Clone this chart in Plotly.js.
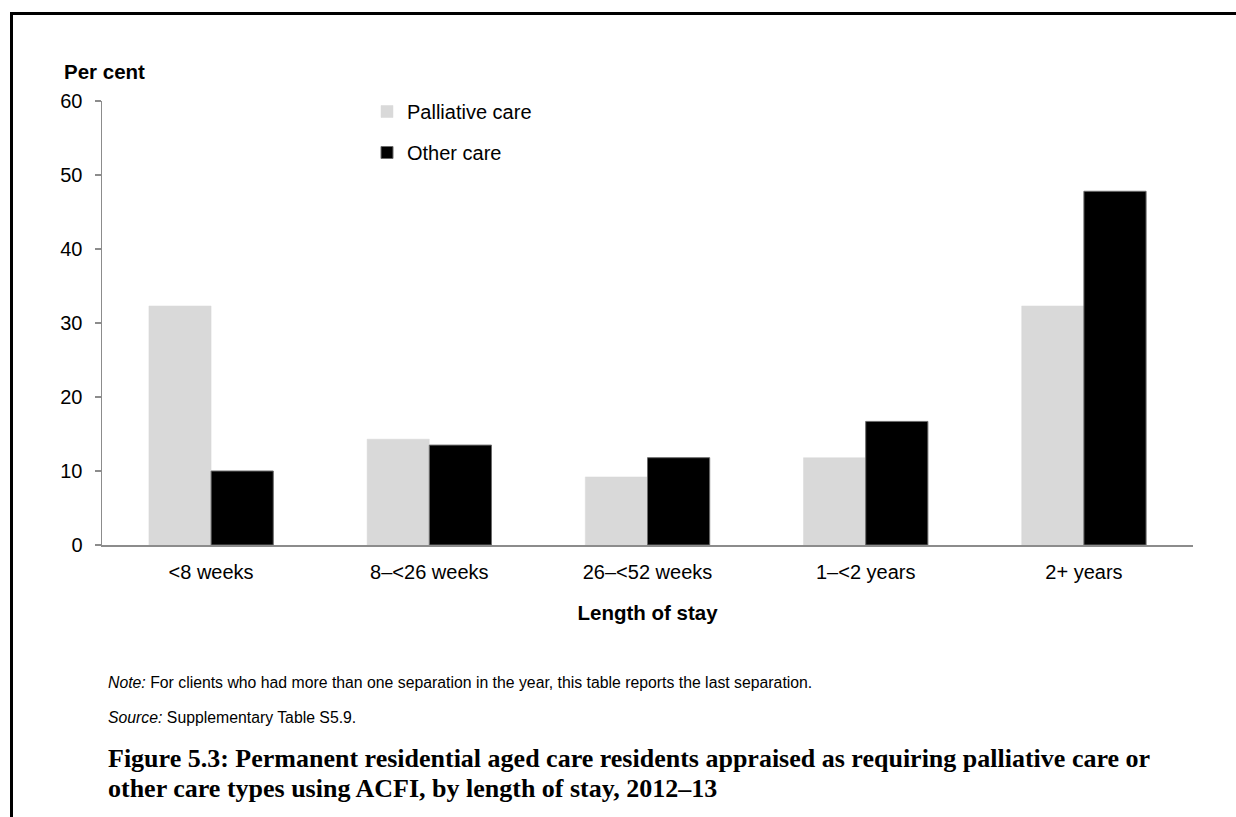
<!DOCTYPE html>
<html>
<head>
<meta charset="utf-8">
<script src="https://cdn.plot.ly/plotly-3.0.1.min.js"></script>
<style>
  html, body { margin: 0; padding: 0; background: #ffffff; }
  #wrap { position: relative; width: 1236px; height: 817px; overflow: hidden; }
  #chart { position: absolute; left: 0; top: 0; width: 1236px; height: 817px; }
  #frame {
    position: absolute; left: 10px; top: 12px; width: 1300px; height: 900px;
    border-top: 3px solid #000; border-left: 3px solid #000; pointer-events: none;
  }
</style>
</head>
<body>
<div id="wrap">
  <div id="chart"></div>
  <div id="frame"></div>
</div>
<script>
// Length-of-stay categories and the share of residents (per cent) in each
const categories = ['<8 weeks', '8\u2013<26 weeks', '26\u2013<52 weeks', '1\u2013<2 years', '2+ years'];
const palliativeCare = [32.3, 14.3, 9.2, 11.8, 32.3];
const otherCare = [10.0, 13.5, 11.8, 16.7, 47.8];
const yTicks = [0, 10, 20, 30, 40, 50, 60];

const W = 1236, H = 817;
const M = { l: 102, r: 43, t: 101, b: 272 };
const plotW = W - M.l - M.r, plotH = H - M.t - M.b;
const px = x => (x - M.l) / plotW;
const py = y => (H - M.b - y) / plotH;

const sans = 'Liberation Sans, Arial, sans-serif';
const serif = 'Liberation Serif, Times New Roman, serif';

const traces = [
  {
    type: 'bar', name: 'Palliative care', x: categories, y: palliativeCare,
    marker: { color: '#d9d9d9', line: { color: '#d9d9d9', width: 0.5 } },
    legendgroup: 'a', hoverinfo: 'skip'
  },
  {
    type: 'bar', name: 'Other care', x: categories, y: otherCare,
    marker: { color: '#000000', line: { color: '#6b6b6b', width: 1 } },
    legendgroup: 'b', hoverinfo: 'skip'
  }
];

const layout = {
  width: W, height: H,
  margin: M,
  paper_bgcolor: '#ffffff', plot_bgcolor: '#ffffff',
  barmode: 'group', bargap: 0.43, bargroupgap: 0,
  font: { family: sans, size: 20, color: '#000000' },
  showlegend: true,
  legend: {
    x: px(367), y: py(92), xanchor: 'left', yanchor: 'top',
    bgcolor: 'rgba(0,0,0,0)', font: { family: sans, size: 20, color: '#000' },
    traceorder: 'grouped', tracegroupgap: 12, itemwidth: 30
  },
  xaxis: {
    type: 'category', showline: true, linecolor: '#8c8c8c', linewidth: 1.5,
    ticks: '', showgrid: false, zeroline: false, ticklabelstandoff: 8,
    tickfont: { family: sans, size: 20, color: '#000' },
    title: { text: '<b>Length of stay</b>', font: { family: sans, size: 20.5, color: '#000' }, standoff: 24 }
  },
  yaxis: {
    range: [0, 60], tickvals: yTicks, showline: true, linecolor: '#8c8c8c', linewidth: 1.5,
    ticks: 'outside', ticklen: 6, tickwidth: 1.5, tickcolor: '#8c8c8c',
    showgrid: false, zeroline: false, ticklabelstandoff: 8,
    tickfont: { family: sans, size: 20, color: '#000' }
  },
  annotations: [
    { text: '<b>Per cent</b>', xref: 'paper', yref: 'paper', x: px(62), y: py(72),
      xanchor: 'left', yanchor: 'middle', showarrow: false,
      font: { family: sans, size: 20.5, color: '#000' } },
    { text: '<i>Note:</i> For clients who had more than one separation in the year, this table reports the last separation.',
      xref: 'paper', yref: 'paper', x: px(106), y: py(682),
      xanchor: 'left', yanchor: 'middle', showarrow: false,
      font: { family: sans, size: 15.8, color: '#000' } },
    { text: '<i>Source:</i> Supplementary Table S5.9.',
      xref: 'paper', yref: 'paper', x: px(106), y: py(717),
      xanchor: 'left', yanchor: 'middle', showarrow: false,
      font: { family: sans, size: 15.8, color: '#000' } },
    { text: '<b>Figure 5.3: Permanent residential aged care residents appraised as requiring palliative care or</b>',
      xref: 'paper', yref: 'paper', x: px(106), y: py(758),
      xanchor: 'left', yanchor: 'middle', showarrow: false,
      font: { family: serif, size: 26, color: '#000' } },
    { text: '<b>other care types using ACFI, by length of stay, 2012\u201313</b>',
      xref: 'paper', yref: 'paper', x: px(106), y: py(788),
      xanchor: 'left', yanchor: 'middle', showarrow: false,
      font: { family: serif, size: 26, color: '#000' } }
  ]
};

Plotly.newPlot('chart', traces, layout, { staticPlot: true, displayModeBar: false });
</script>
</body>
</html>
